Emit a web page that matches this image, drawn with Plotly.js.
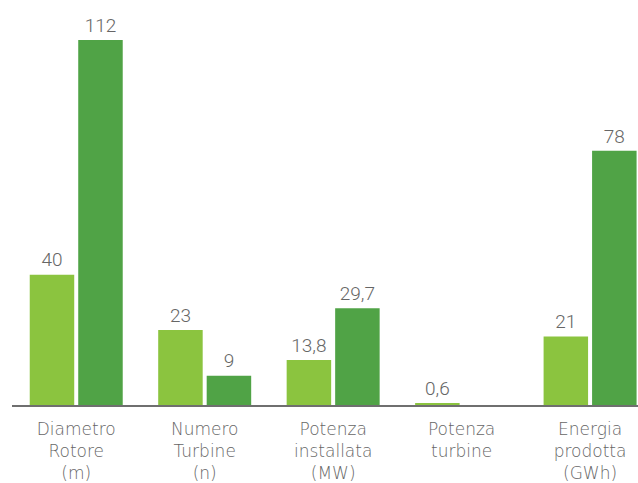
<!DOCTYPE html>
<html><head><meta charset="utf-8">
<script src="https://cdn.plot.ly/plotly-3.0.1.min.js"></script>
<style>html,body{margin:0;padding:0;background:#fff}#chart{width:638px;height:483px}</style>
</head><body><div id="chart"></div>
<script>
const categories = ["Diametro<br>Rotore<br>(m)", "Numero<br>Turbine<br>(n)", "Potenza<br>installata<br>(MW)", "Potenza<br>turbine", "Energia<br>prodotta<br>(GWh)"];
const seriesA = [40, 23, 13.8, 0.6, 21];
const seriesB = [112, 9, 29.7, null, 78];
const colors = ["#8BC43F", "#50A346"];

const numFont = {family: "Roboto, sans-serif", size: 19, color: "#666666", weight: 300};
const tickFont = {family: "'DejaVu Sans', sans-serif", size: 17, color: "#666666", weight: 200};
const traces = [];
[seriesA, seriesB].forEach((s, i) => {
  traces.push({type: "bar", x: categories, y: s, marker: {color: colors[i]}, hoverinfo: "none"});
});
[seriesA, seriesB].forEach((s, i) => {
  traces.push({type: "scatter", mode: "markers+text", x: categories, y: s, marker: {size: 4, opacity: 0},
    text: s.map(v => v == null ? "" : String(v).replace(".", ",")), textposition: "top center", textfont: numFont,
    cliponaxis: false, hoverinfo: "none"});
});
const layout = {
  width: 638, height: 483,
  margin: {l: 12, r: 0, t: 0, b: 78},
  separators: ",.",
  showlegend: false,
  barmode: "group",
  scattermode: "group",
  bargap: 0.245,
  bargroupgap: 0.0825,
  scattergap: 0.245,
  paper_bgcolor: "#fff", plot_bgcolor: "#fff",
  xaxis: {type: "category", range: [-0.5, 4.373], showline: true, linecolor: "#6f6f6f", linewidth: 1.5, ticks: "", showgrid: false, zeroline: false,
          ticklabelstandoff: 8, tickfont: tickFont, fixedrange: true},
  yaxis: {range: [0, 124.3], visible: false, showgrid: false, zeroline: false, fixedrange: true},
  font: {family: "Roboto, sans-serif"}
};
Plotly.newPlot("chart", traces, layout, {displayModeBar: false, staticPlot: true});
</script></body></html>
